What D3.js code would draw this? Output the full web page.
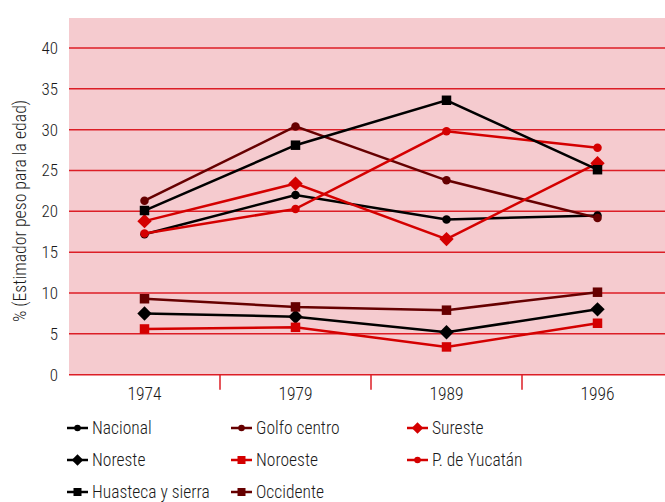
<!DOCTYPE html>
<html>
<head>
<meta charset="utf-8">
<script src="https://cdn.jsdelivr.net/npm/d3@7"></script>
<style>
  html, body { margin: 0; padding: 0; background: #ffffff; }
  svg { display: block; }
  text { font-family: Roboto, "Liberation Sans", sans-serif; font-weight: 300; font-stretch: condensed; fill: #1a1a1a; }
</style>
</head>
<body>
<svg id="chart" width="665" height="502"></svg>
<script>
// Survey years on the x axis
const years = ["1974", "1979", "1989", "1996"];
const yTicks = [0, 5, 10, 15, 20, 25, 30, 35, 40];

// Series values (% underweight-for-age estimate)
const nacional   = [17.2, 22.0, 19.0, 19.5];
const golfo      = [21.3, 30.4, 23.8, 19.2];
const sureste    = [18.8, 23.4, 16.6, 25.9];
const noreste    = [7.5, 7.1, 5.2, 8.0];
const noroeste   = [5.6, 5.8, 3.4, 6.3];
const yucatan    = [17.3, 20.3, 29.8, 27.8];
const huasteca   = [20.1, 28.1, 33.6, 25.1];
const occidente  = [9.3, 8.3, 7.9, 10.1];

const seriesNames = ["Nacional", "Golfo centro", "Sureste", "Noreste", "Noroeste", "P. de Yucatán", "Huasteca y sierra", "Occidente"];
const seriesValues = [nacional, golfo, sureste, noreste, noroeste, yucatan, huasteca, occidente];
const seriesColors = ["#000000", "#660000", "#d40000", "#000000", "#d40000", "#d40000", "#000000", "#660000"];
const seriesShapes = ["circle", "circle", "diamond", "diamond", "square", "circle", "square", "square"];

const svg = d3.select("#chart");
const plot = { left: 69, right: 673, top: 18, bottom: 374.7 };

const x = d3.scaleBand().domain(years).range([plot.left, plot.right]);
const y = d3.scaleLinear().domain([0, 40]).range([plot.bottom, 48]);

// plot background
svg.append("rect")
  .attr("x", plot.left).attr("y", plot.top)
  .attr("width", plot.right - plot.left).attr("height", plot.bottom - plot.top)
  .attr("fill", "#f5cbcf");

// horizontal gridlines
svg.append("g").selectAll("line").data(yTicks).join("line")
  .attr("x1", plot.left).attr("x2", plot.right)
  .attr("y1", d => y(d)).attr("y2", d => y(d))
  .attr("stroke", "#dc1e26").attr("stroke-width", 1.5);

// y tick labels
svg.append("g").selectAll("text").data(yTicks).join("text")
  .attr("x", 58).attr("y", d => y(d))
  .attr("dy", "0.35em")
  .attr("text-anchor", "end")
  .attr("font-size", 17)
  .text(d => d);

// y axis title
svg.append("text")
  .attr("transform", "translate(26,211) rotate(-90)")
  .attr("text-anchor", "middle")
  .attr("font-size", 17.8)
  .text("% (Estimador peso para la edad)");

// x axis category separators
svg.append("g").selectAll("line").data(years.slice(1)).join("line")
  .attr("x1", d => x(d)).attr("x2", d => x(d))
  .attr("y1", plot.bottom).attr("y2", plot.bottom + 15)
  .attr("stroke", "#dc1e26").attr("stroke-width", 1.5);

// x tick labels
svg.append("g").selectAll("text").data(years).join("text")
  .attr("x", d => x(d) + x.bandwidth() / 2)
  .attr("y", 399.5)
  .attr("text-anchor", "middle")
  .attr("font-size", 17.5)
  .text(d => d);

// marker shapes (diamond = square turned 45 degrees)
function marker(shape, s) {
  if (shape === "circle") return d3.symbol().type(d3.symbolCircle).size(Math.PI * s * s / 4)();
  if (shape === "square") return d3.symbol().type(d3.symbolSquare).size(s * s)();
  const h = s * 0.72;
  return `M0,${-h}L${h},0L0,${h}L${-h},0Z`;
}
const markerSize = { circle: 8.5, square: 9.5, diamond: 10 };

const line = d3.line()
  .x((d, i) => x(years[i]) + x.bandwidth() / 2)
  .y(d => y(d));

const series = seriesNames.map((name, k) => ({
  name, values: seriesValues[k], color: seriesColors[k], shape: seriesShapes[k]
}));

// draw lines and markers
const gSeries = svg.append("g").selectAll("g").data(series).join("g");
gSeries.append("path")
  .attr("d", d => line(d.values))
  .attr("fill", "none")
  .attr("stroke", d => d.color)
  .attr("stroke-width", 2.5);
gSeries.each(function(s) {
  d3.select(this).selectAll("path.m").data(s.values).join("path")
    .attr("class", "m")
    .attr("transform", (v, i) => `translate(${x(years[i]) + x.bandwidth() / 2},${y(v)})`)
    .attr("d", marker(s.shape, markerSize[s.shape]))
    .attr("fill", s.color);
});

// legend: three columns
const legCols = [67, 231, 407];
const legRows = [428, 460, 492];
const legend = svg.append("g").selectAll("g").data(series).join("g")
  .attr("transform", (d, i) => `translate(${legCols[i % 3]},${legRows[Math.floor(i / 3)]})`);
legend.append("line")
  .attr("x1", 0).attr("x2", 21).attr("y1", 0).attr("y2", 0)
  .attr("stroke", d => d.color).attr("stroke-width", 2.5);
legend.append("path")
  .attr("transform", "translate(10.5,0)")
  .attr("d", d => marker(d.shape, d.shape === "circle" ? 6.5 : 8))
  .attr("fill", d => d.color);
legend.append("text")
  .attr("x", 25).attr("y", 0).attr("dy", "0.35em")
  .attr("font-size", 17.5)
  .text(d => d.name);
</script>
</body>
</html>
